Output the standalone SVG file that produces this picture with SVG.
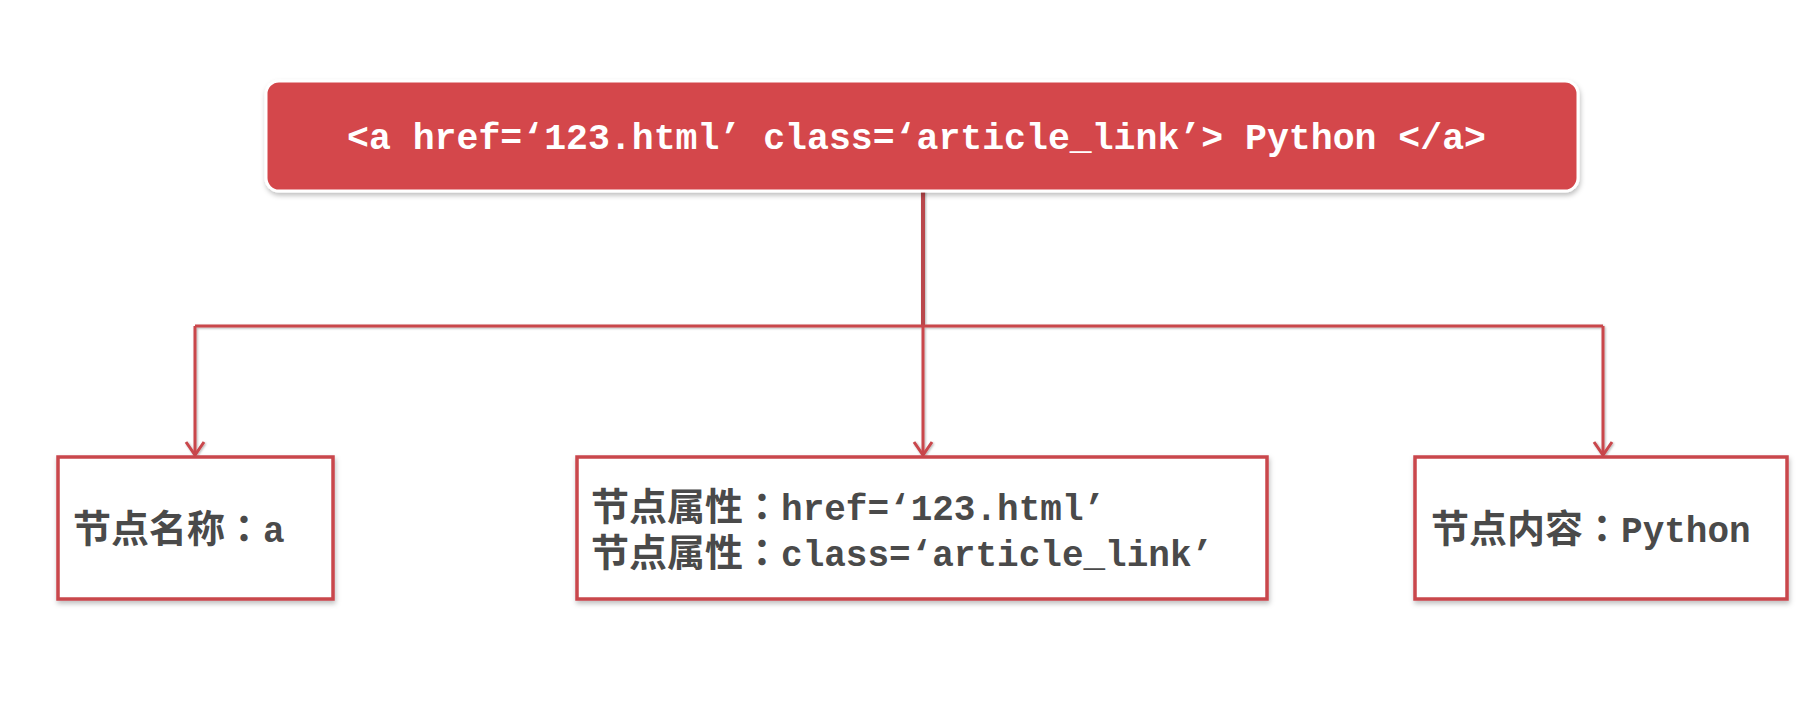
<svg xmlns="http://www.w3.org/2000/svg" width="1820" height="714" viewBox="0 0 1820 714">
  <style>
    .box { fill: #ffffff; stroke: #C9464C; stroke-width: 3.5; }
    .line { fill: none; stroke: #C9464C; stroke-width: 3; }
    .cjk { font-family: "Noto Sans CJK SC", "Noto Sans CJK JP", sans-serif; font-weight: 700; font-size: 38px; fill: #4A4A4A; }
    .colon { font-family: "Noto Sans CJK JP", "Noto Sans CJK TC", sans-serif; }
    .mono { font-family: "Liberation Mono", "DejaVu Sans Mono", monospace; font-weight: 700; font-size: 36px; }
    .title { font-family: "Liberation Mono", "DejaVu Sans Mono", monospace; font-weight: 700; font-size: 36.5px; fill: #ffffff; }
  </style>
  <defs>
    <filter id="shadow" x="-5%" y="-20%" width="110%" height="150%">
      <feDropShadow dx="1" dy="3" stdDeviation="2.5" flood-color="#000000" flood-opacity="0.25"/>
    </filter>
    <filter id="lshadow" x="-50%" y="-50%" width="200%" height="200%">
      <feDropShadow dx="1" dy="1" stdDeviation="1" flood-color="#000000" flood-opacity="0.3"/>
    </filter>
  </defs>
  <rect width="1820" height="714" fill="#ffffff"/>

  <g id="connectors" filter="url(#lshadow)">
    <line class="line" x1="923" y1="190" x2="923" y2="326" style="stroke-width:4;stroke:#B9464C"/>
    <line class="line" x1="195" y1="326" x2="1603" y2="326"/>
    <line class="line" x1="195" y1="326" x2="195" y2="454"/>
    <line class="line" x1="923" y1="326" x2="923" y2="454"/>
    <line class="line" x1="1603" y1="326" x2="1603" y2="454"/>
    <path class="line" d="M186,442 L195,455 L204,442"/>
    <path class="line" d="M914,442 L923,455 L932,442"/>
    <path class="line" d="M1594,442 L1603,455 L1612,442"/>
  </g>

  <g id="node-top">
    <rect x="266" y="81" width="1312" height="110" rx="13" ry="13" fill="#D4474B" stroke="#ffffff" stroke-width="3" filter="url(#shadow)"/>
    <text class="title" x="347" y="149">&lt;a href=‘123.html’ class=‘article_link’&gt; Python &lt;/a&gt;</text>
  </g>

  <g id="node-name">
    <rect class="box" x="58" y="457" width="275" height="142" filter="url(#shadow)"/>
    <text class="cjk" x="73" y="542">节点名称<tspan class="colon">：</tspan><tspan class="mono">a</tspan></text>
  </g>

  <g id="node-attr">
    <rect class="box" x="577" y="457" width="690" height="142" filter="url(#shadow)"/>
    <text class="cjk"><tspan x="591" y="520">节点属性<tspan class="colon">：</tspan><tspan class="mono">href=‘123.html’</tspan></tspan><tspan x="591" y="566">节点属性<tspan class="colon">：</tspan><tspan class="mono">class=‘article_link’</tspan></tspan></text>
  </g>

  <g id="node-content">
    <rect class="box" x="1415" y="457" width="372" height="142" filter="url(#shadow)"/>
    <text class="cjk" x="1431" y="542">节点内容<tspan class="colon">：</tspan><tspan class="mono">Python</tspan></text>
  </g>
</svg>
